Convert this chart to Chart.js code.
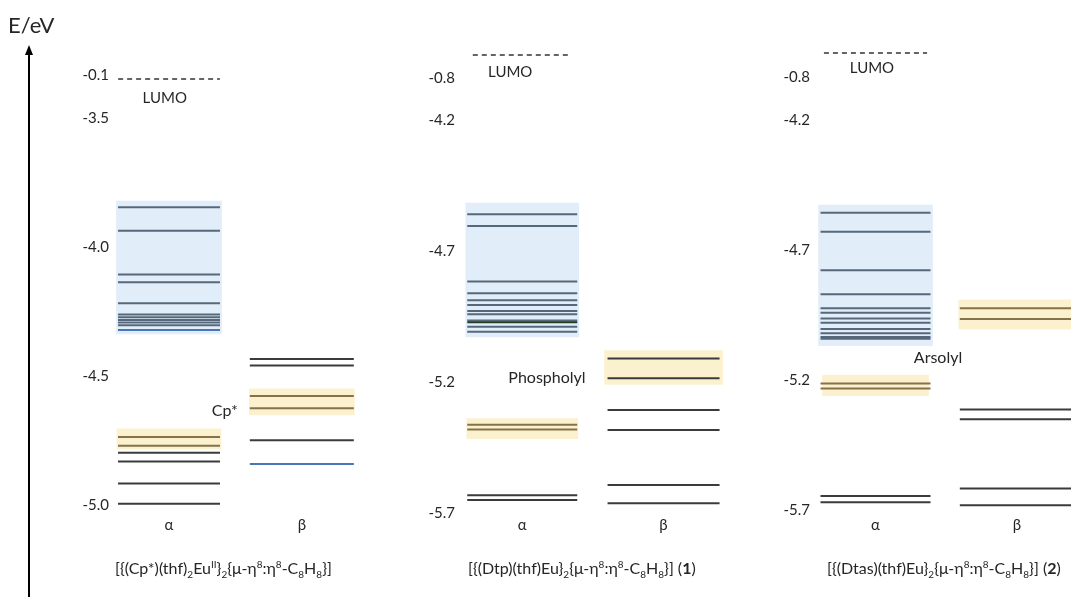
<!DOCTYPE html>
<html>
<head>
<meta charset="utf-8">
<script src="https://cdn.jsdelivr.net/npm/chart.js@4.4.1/dist/chart.umd.min.js"></script>
<style>
  body { margin: 0; background: #fff; }
  #wrap { position: relative; width: 1071px; height: 597px; font-family: Lato, 'Open Sans', sans-serif; color: #262626; }
  canvas { position: absolute; left: 0; top: 0; }
  .cmpd { position: absolute; top: 558px; font-size: 16px; line-height: 20px; white-space: nowrap; }
  .cmpd sub, .cmpd sup { font-size: 10px; line-height: 0; }
</style>
</head>
<body>
<div id="wrap">
  <canvas id="chart" width="1071" height="597"></canvas>
  <div class="cmpd" style="left:115px">[{(Cp*)(thf)<sub>2</sub>Eu<sup>II</sup>}<sub>2</sub>{μ-η<sup>8</sup>:η<sup>8</sup>-C<sub>8</sub>H<sub>8</sub>}]</div>
  <div class="cmpd" style="left:468px">[{(Dtp)(thf)Eu}<sub>2</sub>{μ-η<sup>8</sup>:η<sup>8</sup>-C<sub>8</sub>H<sub>8</sub>}] (<b>1</b>)</div>
  <div class="cmpd" style="left:827px">[{(Dtas)(thf)Eu}<sub>2</sub>{μ-η<sup>8</sup>:η<sup>8</sup>-C<sub>8</sub>H<sub>8</sub>}] (<b>2</b>)</div>
</div>
<script>
// orbital energies (eV)
const spins = ['α', 'β', 'α', 'β', 'α', 'β'];
const lumo = [-0.1, -0.8, -0.8];
const ligandNames = ['Cp*', 'Phospholyl', 'Arsolyl'];

const cpAlpha = [-3.846, -3.937, -4.107, -4.137, -4.218, -4.262, -4.272, -4.283, -4.293, -4.303, -4.322,
  -4.736, -4.770, -4.798, -4.831, -4.917, -4.995];
const cpBeta = [-4.434, -4.459, -4.578, -4.625, -4.749, -4.841];
const dtpAlpha = [-4.560, -4.605, -4.816, -4.861, -4.888, -4.906, -4.929, -4.941, -4.965, -4.972, -4.989, -5.008,
  -5.363, -5.381, -5.632, -5.650];
const dtpBeta = [-5.110, -5.186, -5.307, -5.383, -5.593, -5.663];
const dtasAlpha = [-4.557, -4.630, -4.778, -4.870, -4.924, -4.941, -4.963, -4.980, -5.004, -5.020, -5.035, -5.041,
  -5.213, -5.233, -5.646, -5.670];
const dtasBeta = [-4.924, -4.965, -5.313, -5.351, -5.617, -5.682];

// shaded bands [low, high]: Eu 4f block (blue) and ligand orbitals (yellow)
const cpFBand = [-4.337, -3.822];
const cpLigAlpha = [-4.783, -4.705];
const cpLigBeta = [-4.651, -4.550];
const dtpFBand = [-5.028, -4.517];
const dtpLigAlpha = [-5.416, -5.340];
const dtpLigBeta = [-5.209, -5.080];
const dtasFBand = [-5.068, -4.527];
const dtasLigAlpha = [-5.260, -5.181];
const dtasLigBeta = [-5.004, -4.892];

// axis tick labels
const cpTicks = [-5.0, -4.5, -4.0, -3.5, -0.1];
const dtpTicks = [-5.7, -5.2, -4.7, -4.2, -0.8];
const dtasTicks = [-5.7, -5.2, -4.7, -4.2, -0.8];

// layout: column centres on the x axis, axis breaks (real -> shown value)
const colX = [0, 1.88, 5, 7, 10, 12];
const axisBreaks = {
  y1: [[-3.5, -3.5], [-0.1, -3.349]],
  y2: [[-4.2, -4.2], [-0.8, -3.952]],
  y3: [[-4.2, -4.2], [-0.8, -3.942]]
};
const tickNudge = { y1: [0, 0, 0, 0, -4], y2: [0, 0, 0, 0, 23], y3: [0, 0, 0, 0, 24] };

const FONT = 'Lato, "Open Sans", sans-serif';
const INK = '#262626';
const BLUE_BAND = '#e1eef9';
const YELLOW_BAND = '#fcf1cf';

// linear scale with a compressed gap up to the LUMO
class BrokenScale extends Chart.LinearScale {
  toShown(v) {
    const b = axisBreaks[this.id];
    if (v <= b[0][0]) return b[0][1] + v - b[0][0];
    for (let i = 1; i < b.length; i++) {
      if (v <= b[i][0]) {
        const t = (v - b[i - 1][0]) / (b[i][0] - b[i - 1][0]);
        return b[i - 1][1] + t * (b[i][1] - b[i - 1][1]);
      }
    }
    const l = b[b.length - 1];
    return l[1] + v - l[0];
  }
  fromShown(d) {
    const b = axisBreaks[this.id];
    if (d <= b[0][1]) return b[0][0] + d - b[0][1];
    for (let i = 1; i < b.length; i++) {
      if (d <= b[i][1]) {
        const t = (d - b[i - 1][1]) / (b[i][1] - b[i - 1][1]);
        return b[i - 1][0] + t * (b[i][0] - b[i - 1][0]);
      }
    }
    const l = b[b.length - 1];
    return l[0] + d - l[1];
  }
  getPixelForValue(v) {
    return super.getPixelForValue(this.toShown(v));
  }
  getValueForPixel(p) {
    return this.fromShown(super.getValueForPixel(p));
  }
  getPixelForTick(i) {
    return super.getPixelForTick(i) + ((tickNudge[this.id] || [])[i] || 0);
  }
}
BrokenScale.id = 'broken';
BrokenScale.defaults = Chart.LinearScale.defaults;
Chart.register(BrokenScale);

function lineColor(v, bands, accents) {
  if (accents && accents[v]) return accents[v];
  if (bands[0] && v >= bands[0][0] && v <= bands[0][1]) return '#56687a';
  if (bands[1] && v >= bands[1][0] && v <= bands[1][1]) return '#857248';
  return '#3b3b3b';
}

function levelSet(levels, col, axis, half, bands, accents) {
  return {
    type: 'scatter',
    data: levels.map(v => ({ x: colX[col], y: v })),
    yAxisID: axis,
    pointStyle: 'line',
    pointRadius: half,
    pointBorderWidth: 2,
    pointBorderColor: levels.map(v => lineColor(v, bands, accents)),
    order: 1
  };
}

function bandSet(band, col, axis, width, color) {
  return {
    type: 'bar',
    data: [{ x: colX[col], y: band }],
    yAxisID: axis,
    barThickness: width,
    backgroundColor: color,
    borderWidth: 0,
    grouped: false,
    order: 3
  };
}

function lumoSet(val, col, axis, half) {
  return {
    type: 'line',
    data: [{ x: colX[col] - half, y: val }, { x: colX[col] + half, y: val }],
    yAxisID: axis,
    borderColor: '#333',
    borderWidth: 1.5,
    borderDash: [5, 4],
    pointRadius: 0,
    order: 1
  };
}

function yAxis(at, min, max, tickVals) {
  return {
    type: 'broken',
    position: { x: at },
    min: min,
    max: max,
    offset: false,
    grid: { display: false, drawTicks: false },
    border: { display: false },
    afterBuildTicks: s => { s.ticks = tickVals.map(v => ({ value: v })); },
    afterFit: s => { s.width = 0; s.paddingTop = 0; s.paddingBottom = 0; },
    ticks: {
      autoSkip: false,
      padding: 0,
      color: INK,
      font: { family: FONT, size: 15 },
      callback: v => v.toFixed(1)
    }
  };
}

const labelsPlugin = {
  id: 'labels',
  afterDraw(chart) {
    const { ctx, scales } = chart;
    const x = scales.x;
    ctx.save();
    ctx.fillStyle = INK;
    ctx.textAlign = 'center';
    ctx.textBaseline = 'middle';
    ctx.font = '15px ' + FONT;
    // LUMO captions under the dashed lines
    [[-0.06, 'y1', 19], [4.83, 'y2', 17], [9.95, 'y3', 15]].forEach(([cx, id, dy], i) => {
      ctx.fillText('LUMO', x.getPixelForValue(cx), scales[id].getPixelForValue(lumo[i]) + dy);
    });
    // ligand band captions
    ctx.font = '16px ' + FONT;
    ctx.fillText(ligandNames[0], x.getPixelForValue(0.79), scales.y1.getPixelForValue(-4.636));
    ctx.fillText(ligandNames[1], x.getPixelForValue(5.35), scales.y2.getPixelForValue(-5.185));
    ctx.fillText(ligandNames[2], x.getPixelForValue(10.885), scales.y3.getPixelForValue(-5.115));
    // energy axis arrow
    ctx.textAlign = 'left';
    ctx.font = '22px ' + FONT;
    ctx.fillText('E/eV', 8, 26);
    ctx.strokeStyle = '#000';
    ctx.lineWidth = 2;
    ctx.beginPath();
    ctx.moveTo(29, 597);
    ctx.lineTo(29, 54);
    ctx.stroke();
    ctx.fillStyle = '#000';
    ctx.beginPath();
    ctx.moveTo(29, 45);
    ctx.lineTo(25, 55);
    ctx.lineTo(33, 55);
    ctx.closePath();
    ctx.fill();
    ctx.restore();
  }
};

new Chart(document.getElementById('chart'), {
  type: 'scatter',
  data: {
    datasets: [
      bandSet(cpFBand, 0, 'y1', 105, BLUE_BAND),
      bandSet(cpLigAlpha, 0, 'y1', 104, YELLOW_BAND),
      bandSet(cpLigBeta, 1, 'y1', 105, YELLOW_BAND),
      bandSet(dtpFBand, 2, 'y2', 113, BLUE_BAND),
      bandSet(dtpLigAlpha, 2, 'y2', 111, YELLOW_BAND),
      bandSet(dtpLigBeta, 3, 'y2', 118, YELLOW_BAND),
      bandSet(dtasFBand, 4, 'y3', 114, BLUE_BAND),
      bandSet(dtasLigAlpha, 4, 'y3', 106, YELLOW_BAND),
      bandSet(dtasLigBeta, 5, 'y3', 116, YELLOW_BAND),
      levelSet(cpAlpha, 0, 'y1', 51, [cpFBand, cpLigAlpha], { '-4.322': '#4a76b5' }),
      levelSet(cpBeta, 1, 'y1', 52, [null, cpLigBeta], { '-4.841': '#4a76b5' }),
      levelSet(dtpAlpha, 2, 'y2', 55, [dtpFBand, dtpLigAlpha], { '-4.972': '#1f3d1f' }),
      levelSet(dtpBeta, 3, 'y2', 56, [null, null]),
      levelSet(dtasAlpha, 4, 'y3', 55, [dtasFBand, dtasLigAlpha]),
      levelSet(dtasBeta, 5, 'y3', 57, [null, dtasLigBeta]),
      lumoSet(lumo[0], 0, 'y1', 0.72),
      lumoSet(lumo[1], 2, 'y2', 0.7),
      lumoSet(lumo[2], 4, 'y3', 0.73)
    ]
  },
  options: {
    responsive: false,
    animation: false,
    events: [],
    layout: { autoPadding: false, padding: { top: 0, left: 0, right: 0, bottom: 52 } },
    plugins: { legend: { display: false }, tooltip: { enabled: false } },
    scales: {
      x: {
        type: 'linear',
        min: -2.392,
        max: 12.767,
        offset: false,
        grid: { display: false, drawTicks: false, offset: false },
        border: { display: false },
        afterBuildTicks: s => { s.ticks = colX.map(v => ({ value: v })); },
        afterFit: s => { s.height = 30; s.paddingLeft = 0; s.paddingRight = 0; },
        ticks: {
          autoSkip: false,
          maxRotation: 0,
          padding: 1,
          color: INK,
          font: { family: FONT, size: 15 },
          callback: (v, i) => spins[i]
        }
      },
      y1: yAxis(-0.849, -5.0388, -3.0427, cpTicks),
      y2: yAxis(4.048, -5.7076, -3.742, dtpTicks),
      y3: yAxis(9.073, -5.7192, -3.7384, dtasTicks)
    }
  },
  plugins: [labelsPlugin]
});
</script>
</body>
</html>
